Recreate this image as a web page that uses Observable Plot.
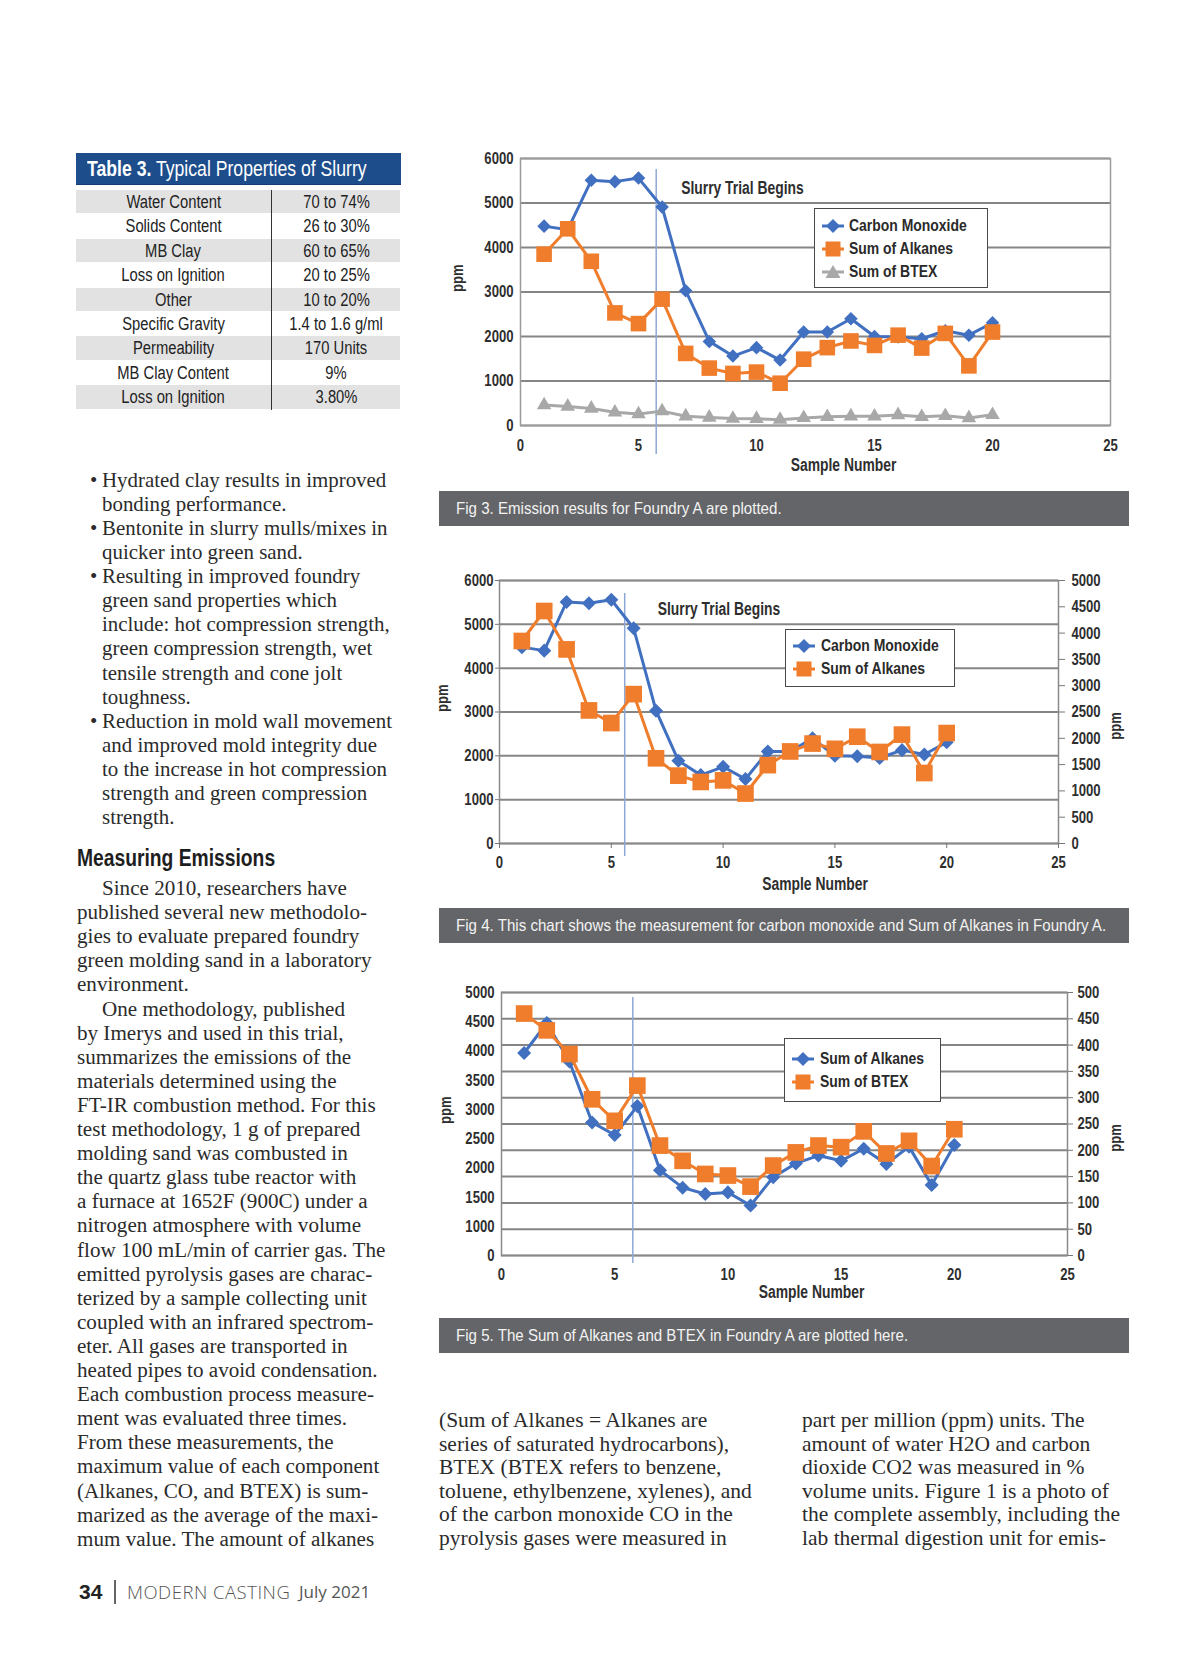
<!DOCTYPE html>
<html>
<head>
<meta charset="utf-8">
<script src="https://cdn.jsdelivr.net/npm/d3@7"></script>
<script src="https://cdn.jsdelivr.net/npm/@observablehq/plot@0.6"></script>
<style>
html,body{margin:0;padding:0;background:#fff;}
#page{position:relative;width:1200px;height:1657px;overflow:hidden;background:#fff;}
.abs{position:absolute;}
.narrow{font-family:"Liberation Sans",Arial,sans-serif;}
.cn{display:inline-block;transform:scaleX(0.82);transform-origin:left center;white-space:nowrap;}
.cnc{display:inline-block;transform:scaleX(0.82);transform-origin:center center;white-space:nowrap;}
.cap .cn{transform:scaleX(0.915);}
.serif{font-family:"Liberation Serif","DejaVu Serif",serif;color:#2b2b2b;}
.line{position:absolute;white-space:pre;line-height:24px;height:24px;}
.cap{position:absolute;left:439px;width:690px;height:35px;background:#646568;color:#f3f3f3;font-size:16.5px;line-height:35px;box-sizing:border-box;padding-left:17px;white-space:nowrap;overflow:hidden;}
.legend{position:absolute;background:#fff;border:1.5px solid #4a4a4a;box-sizing:border-box;}
.legend .item{position:absolute;white-space:nowrap;font-weight:bold;font-size:17px;color:#2a2a2a;line-height:20px;height:20px;}
.legend svg{position:absolute;}
</style>
</head>
<body>
<div id="page"></div>
<script>
// ---------------- DATA ----------------
const samples = [1,2,3,4,5,6,7,8,9,10,11,12,13,14,15,16,17,18,19,20];
const carbonMonoxide = [4480,4400,5510,5480,5560,4910,3030,1890,1560,1750,1470,2100,2100,2400,2000,1990,1950,2130,2030,2310];
const sumAlkanes = [3850,4420,3690,2530,2290,2840,1620,1290,1170,1200,950,1490,1750,1900,1800,2030,1740,2070,1340,2100];
const sumBTEX = [460,428,383,297,256,323,209,180,155,152,131,171,196,209,206,236,194,218,170,240];

const trialStart3 = 5.75, trialStart4 = 5.6, trialStart5 = 5.8;
const trialLabel = "Slurry Trial Begins";

const xTicks = [0,5,10,15,20,25];
const fig3YTicks = [0,1000,2000,3000,4000,5000,6000];
const fig4LeftTicks = [0,1000,2000,3000,4000,5000,6000];
const fig4RightTicks = [0,500,1000,1500,2000,2500,3000,3500,4000,4500,5000];
const fig5LeftLabels = ["5000","4500","4000","3500","3000","2500","2000","1500","1000","0"];
const fig5RightTicks = [0,50,100,150,200,250,300,350,400,450,500];

const tableProps = ["Water Content","Solids Content","MB Clay","Loss on Ignition","Other","Specific Gravity","Permeability","MB Clay Content","Loss on Ignition"];
const tableValues = ["70 to 74%","26 to 30%","60 to 65%","20 to 25%","10 to 20%","1.4 to 1.6 g/ml","170 Units","9%","3.80%"];

const captions = [
  "Fig 3. Emission results for Foundry A are plotted.",
  "Fig 4. This chart shows the measurement for carbon monoxide and Sum of Alkanes in Foundry A.",
  "Fig 5. The Sum of Alkanes and BTEX in Foundry A are plotted here."
];

const bulletLines = [
  ["• ","Hydrated clay results in improved"],
  ["","bonding performance."],
  ["• ","Bentonite in slurry mulls/mixes in"],
  ["","quicker into green sand."],
  ["• ","Resulting in improved foundry"],
  ["","green sand properties which"],
  ["","include: hot compression strength,"],
  ["","green compression strength, wet"],
  ["","tensile strength and cone jolt"],
  ["","toughness."],
  ["• ","Reduction in mold wall movement"],
  ["","and improved mold integrity due"],
  ["","to the increase in hot compression"],
  ["","strength and green compression"],
  ["","strength."]
];
const heading = "Measuring Emissions";
const bodyLines = [
  [1,"Since 2010, researchers have"],
  [0,"published several new methodolo-"],
  [0,"gies to evaluate prepared foundry"],
  [0,"green molding sand in a laboratory"],
  [0,"environment."],
  [1,"One methodology, published"],
  [0,"by Imerys and used in this trial,"],
  [0,"summarizes the emissions of the"],
  [0,"materials determined using the"],
  [0,"FT-IR combustion method. For this"],
  [0,"test methodology, 1 g of prepared"],
  [0,"molding sand was combusted in"],
  [0,"the quartz glass tube reactor with"],
  [0,"a furnace at 1652F (900C) under a"],
  [0,"nitrogen atmosphere with volume"],
  [0,"flow 100 mL/min of carrier gas. The"],
  [0,"emitted pyrolysis gases are charac-"],
  [0,"terized by a sample collecting unit"],
  [0,"coupled with an infrared spectrom-"],
  [0,"eter. All gases are transported in"],
  [0,"heated pipes to avoid condensation."],
  [0,"Each combustion process measure-"],
  [0,"ment was evaluated three times."],
  [0,"From these measurements, the"],
  [0,"maximum value of each component"],
  [0,"(Alkanes, CO, and BTEX) is sum-"],
  [0,"marized as the average of the maxi-"],
  [0,"mum value. The amount of alkanes"]
];
const middleLines = [
  "(Sum of Alkanes = Alkanes are",
  "series of saturated hydrocarbons),",
  "BTEX (BTEX refers to benzene,",
  "toluene, ethylbenzene, xylenes), and",
  "of the carbon monoxide CO in the",
  "pyrolysis gases were measured in"
];
const rightLines = [
  "part per million (ppm) units. The",
  "amount of water H2O and carbon",
  "dioxide CO2 was measured in %",
  "volume units. Figure 1 is a photo of",
  "the complete assembly, including the",
  "lab thermal digestion unit for emis-"
];

// ---------------- STYLE ----------------
const SANS = "'Liberation Sans',Arial,sans-serif";
const CONDENSE = 0.77;
const BLUE = "#4170c0", ORANGE = "#ef7d2c", GRAY = "#a8a8a8", GRID = "#858585", TRIAL = "#8ea8d6";

const page = document.getElementById("page");
function el(tag, cls, css, html) {
  const e = document.createElement(tag);
  if (cls) e.className = cls;
  if (css) Object.assign(e.style, css);
  if (html != null) e.innerHTML = html;
  page.appendChild(e);
  return e;
}
const cn = s => `<span class="cn">${s}</span>`;
const cnc = s => `<span class="cnc">${s}</span>`;

// square-rotated diamond like Excel
const diamond = {
  draw(ctx, size) {
    const h = Math.sqrt(size / 2);
    ctx.moveTo(0, -h); ctx.lineTo(h, 0); ctx.lineTo(0, h); ctx.lineTo(-h, 0); ctx.closePath();
  }
};

const rows = samples.map((s, i) => ({s, co: carbonMonoxide[i], alk: sumAlkanes[i], btex: sumBTEX[i]}));

// ---------------- TABLE ----------------
el("div", "narrow", {position:"absolute", left:"76px", top:"153px", width:"325px", height:"32px", background:"#1e4d8c", color:"#fff", fontSize:"21.5px", lineHeight:"32px", paddingLeft:"11px", boxSizing:"border-box", whiteSpace:"nowrap", borderBottom:"1px solid #173e72", overflow:"hidden"},
  cn("<b>Table 3.</b> Typical Properties of Slurry"));
const rowTop = 190, rowH = 24.4;
tableProps.forEach((p, i) => {
  const top = rowTop + i * rowH;
  if (i % 2 === 0) el("div", "abs", {left:"76px", top: top + "px", width:"324px", height:(rowH - 1) + "px", background:"#e2e2e2"});
  el("div", "narrow abs", {left:"76px", top: top + "px", width:"195px", height: rowH + "px", lineHeight: rowH + "px", textAlign:"center", fontSize:"18px", color:"#222"}, cnc(p));
  el("div", "narrow abs", {left:"272px", top: top + "px", width:"129px", height: rowH + "px", lineHeight: rowH + "px", textAlign:"center", fontSize:"18px", color:"#222"}, cnc(tableValues[i]));
});
el("div", "abs", {left:"270.5px", top:"190px", width:"1.5px", height:(rowH * tableProps.length) + "px", background:"#333"});

// ---------------- LEFT COLUMN TEXT ----------------
bulletLines.forEach(([b, t], i) => {
  const cy = 480 + i * 24.07;
  if (b) el("div", "serif line", {left:"90px", top:(cy - 12) + "px", fontSize:"21px"}, "•");
  el("div", "serif line", {left:"102px", top:(cy - 12) + "px", fontSize:"20.9px"}, t);
});
el("div", "narrow abs", {left:"77px", top:(858 - 14) + "px", fontSize:"23.5px", fontWeight:"bold", color:"#1e1e1e", lineHeight:"28px", whiteSpace:"nowrap"}, cn(heading));
bodyLines.forEach(([ind, t], i) => {
  const cy = 888 + i * 24.1;
  el("div", "serif line", {left:(ind ? 102 : 77) + "px", top:(cy - 12) + "px", fontSize:"21.1px"}, t);
});
middleLines.forEach((t, i) => {
  const cy = 1420 + i * 23.6;
  el("div", "serif line", {left:"439px", top:(cy - 12) + "px", fontSize:"21.5px"}, t);
});
rightLines.forEach((t, i) => {
  const cy = 1420 + i * 23.6;
  el("div", "serif line", {left:"802px", top:(cy - 12) + "px", fontSize:"21.5px"}, t);
});

// ---------------- FOOTER ----------------
el("div", "abs", {left:"79px", top:"1579px", fontFamily:SANS, fontWeight:"bold", fontSize:"21px", lineHeight:"26px", color:"#222"}, "34");
el("div", "abs", {left:"114px", top:"1580px", width:"1.5px", height:"24px", background:"#666"});
el("div", "abs", {left:"127px", top:"1579px", fontFamily:"'Open Sans',sans-serif", fontWeight:"300", fontSize:"18.5px", lineHeight:"26px", color:"#555", whiteSpace:"nowrap", letterSpacing:"0.5px"}, "MODERN CASTING");
el("div", "abs", {left:"299px", top:"1579px", fontFamily:"'Open Sans',sans-serif", fontWeight:"400", fontSize:"17px", lineHeight:"26px", color:"#555", whiteSpace:"nowrap"}, "July 2021");

// ---------------- CAPTIONS ----------------
[491, 908, 1318].forEach((top, i) => el("div", "cap narrow", {top: top + "px"}, cn(captions[i])));

// ---------------- CHARTS ----------------
const baseStyle = {fontFamily: SANS, fontSize: "17px", fontWeight: "bold", color: "#2e2e2e", background: "transparent", overflow: "visible"};
function place(svg, left, top) {
  const d = el("div", "abs", {left: left + "px", top: top + "px"});
  d.appendChild(svg);
  // condense all chart text (narrow bold look) keeping glyph height
  svg.querySelectorAll("text").forEach(t => {
    const w = t.getComputedTextLength();
    if (w > 0) {
      t.setAttribute("textLength", (w * CONDENSE).toFixed(2));
      t.setAttribute("lengthAdjust", "spacingAndGlyphs");
    }
  });
}

// Fig 3
const fig3 = Plot.plot({
  width: 700, height: 345, marginLeft: 90, marginRight: 20, marginTop: 18, marginBottom: 60,
  x: {domain: [0, 25]}, y: {domain: [0, 6000]},
  style: baseStyle,
  marks: [
    Plot.ruleY(fig3YTicks, {stroke: GRID, strokeWidth: 2}),
    Plot.frame({stroke: "#9b9b9b", strokeWidth: 1.5}),
    Plot.ruleX([trialStart3], {stroke: TRIAL, strokeWidth: 1.5, insetTop: 11, insetBottom: -29}),
    Plot.line(rows, {x: "s", y: "co", stroke: BLUE, strokeWidth: 3}),
    Plot.dot(rows, {x: "s", y: "co", symbol: diamond, r: 5.4, fill: BLUE}),
    Plot.line(rows, {x: "s", y: "alk", stroke: ORANGE, strokeWidth: 3}),
    Plot.dot(rows, {x: "s", y: "alk", symbol: "square", r: 8.8, fill: ORANGE}),
    Plot.line(rows, {x: "s", y: "btex", stroke: GRAY, strokeWidth: 3}),
    Plot.dot(rows, {x: "s", y: "btex", symbol: "triangle", r: 5.4, fill: GRAY}),
    Plot.axisY({ticks: fig3YTicks, tickSize: 0, tickPadding: 7, tickFormat: d => String(d), label: null}),
    Plot.axisX({ticks: xTicks, tickSize: 0, tickPadding: 13, tickFormat: d => String(d), label: null}),
    Plot.text(["ppm"], {text: d => d, frameAnchor: "left", dx: -63, rotate: -90}),
    Plot.text(["Sample Number"], {text: d => d, frameAnchor: "bottom", dy: 45, dx: 28, fontSize: 18}),
    Plot.text([{x: trialStart3, t: trialLabel}], {x: "x", text: "t", frameAnchor: "top", dx: 25, dy: 23, textAnchor: "start", fontSize: 18})
  ]
});
place(fig3, 430, 140);

// Fig 4 (alkanes on right axis 0-5000)
const k4 = 6000 / 5000;
const fig4 = Plot.plot({
  width: 720, height: 345, marginLeft: 69, marginRight: 92, marginTop: 20, marginBottom: 62,
  x: {domain: [0, 25]}, y: {domain: [0, 6000]},
  style: baseStyle,
  marks: [
    Plot.ruleY(fig4LeftTicks, {stroke: GRID, strokeWidth: 2}),
    Plot.frame({stroke: "#8a8a8a", strokeWidth: 1.5}),
    Plot.ruleX([trialStart4], {stroke: TRIAL, strokeWidth: 1.5, insetTop: 13, insetBottom: -13}),
    Plot.line(rows, {x: "s", y: "co", stroke: BLUE, strokeWidth: 3}),
    Plot.dot(rows, {x: "s", y: "co", symbol: diamond, r: 5.6, fill: BLUE}),
    Plot.line(rows, {x: "s", y: d => d.alk * k4, stroke: ORANGE, strokeWidth: 3}),
    Plot.dot(rows, {x: "s", y: d => d.alk * k4, symbol: "square", r: 9.4, fill: ORANGE}),
    Plot.axisY({ticks: fig4LeftTicks, tickSize: 4, tickPadding: 2, tickFormat: d => String(d), label: null, stroke: "#777"}),
    Plot.axisY({anchor: "right", ticks: fig4RightTicks.map(v => v * k4), tickSize: 6, tickPadding: 7, tickFormat: d => String(Math.round(d / k4)), label: null, stroke: "#777"}),
    Plot.axisX({ticks: xTicks, tickSize: 5, tickPadding: 7, tickFormat: d => String(d), label: null, stroke: "#777"}),
    Plot.text(["ppm"], {text: d => d, frameAnchor: "left", dx: -57, rotate: -90}),
    Plot.text(["ppm"], {text: d => d, frameAnchor: "right", dx: 57, rotate: -90}),
    Plot.text(["Sample Number"], {text: d => d, frameAnchor: "bottom", dy: 46, dx: 36, fontSize: 18}),
    Plot.text([{x: trialStart4, t: trialLabel}], {x: "x", text: "t", frameAnchor: "top", dx: 33, dy: 22, textAnchor: "start", fontSize: 18})
  ]
});
place(fig4, 430, 560);

// Fig 5 (alkanes left 0-5000, BTEX right 0-500)
const k5 = 5000 / 500;
const fig5LeftPos = fig5LeftLabels.map((_, i) => 5000 * (1 - i / (fig5LeftLabels.length - 1)));
const fig5LabelAt = new Map(fig5LeftPos.map((p, i) => [p, fig5LeftLabels[i]]));
const fig5 = Plot.plot({
  width: 720, height: 340, marginLeft: 71, marginRight: 83, marginTop: 17, marginBottom: 60,
  x: {domain: [0, 25]}, y: {domain: [0, 5000]},
  style: baseStyle,
  marks: [
    Plot.ruleY(fig5RightTicks.map(v => v * k5), {stroke: GRID, strokeWidth: 2}),
    Plot.frame({stroke: "#8a8a8a", strokeWidth: 1.5}),
    Plot.ruleX([trialStart5], {stroke: TRIAL, strokeWidth: 1.5, insetTop: 5, insetBottom: -8}),
    Plot.line(rows, {x: "s", y: "alk", stroke: BLUE, strokeWidth: 3}),
    Plot.dot(rows, {x: "s", y: "alk", symbol: diamond, r: 5.6, fill: BLUE}),
    Plot.line(rows, {x: "s", y: d => d.btex * k5, stroke: ORANGE, strokeWidth: 3}),
    Plot.dot(rows, {x: "s", y: d => d.btex * k5, symbol: "square", r: 9.4, fill: ORANGE}),
    Plot.axisY({ticks: fig5LeftPos, tickSize: 0, tickPadding: 7, tickFormat: d => fig5LabelAt.get(d), label: null}),
    Plot.axisY({anchor: "right", ticks: fig5RightTicks.map(v => v * k5), tickSize: 5, tickPadding: 5, tickFormat: d => String(Math.round(d / k5)), label: null, stroke: "#777"}),
    Plot.axisX({ticks: xTicks, tickSize: 0, tickPadding: 12, tickFormat: d => String(d), label: null}),
    Plot.text(["ppm"], {text: d => d, frameAnchor: "left", dx: -56, rotate: -90}),
    Plot.text(["ppm"], {text: d => d, frameAnchor: "right", dx: 48, rotate: -90}),
    Plot.text(["Sample Number"], {text: d => d, frameAnchor: "bottom", dy: 42, dx: 27, fontSize: 18})
  ]
});
place(fig5, 430, 975);

// ---------------- LEGENDS ----------------
function markerSVG(kind, color) {
  let shape = "";
  if (kind === "diamond") shape = `<polygon points="11,2 18,9 11,16 4,9" fill="${color}"/>`;
  else if (kind === "square") shape = `<rect x="3.5" y="1.5" width="15" height="15" fill="${color}"/>`;
  else shape = `<polygon points="11,2 18.5,15 3.5,15" fill="${color}"/>`;
  return `<svg width="22" height="18" viewBox="0 0 22 18"><line x1="0" y1="9" x2="22" y2="9" stroke="${color}" stroke-width="3"/>${shape}</svg>`;
}
function legend(box, entries, markerX, textX, rowYs) {
  const L = el("div", "legend narrow", {left: box[0] + "px", top: box[1] + "px", width: (box[2] - box[0]) + "px", height: (box[3] - box[1]) + "px"});
  entries.forEach((e, i) => {
    const s = document.createElement("div");
    s.innerHTML = markerSVG(e.kind, e.color);
    const svg = s.firstChild;
    svg.style.left = (markerX - box[0] - 11) + "px";
    svg.style.top = (rowYs[i] - box[1] - 9) + "px";
    L.appendChild(svg);
    const t = document.createElement("div");
    t.className = "item";
    t.style.left = (textX - box[0]) + "px";
    t.style.top = (rowYs[i] - box[1] - 10) + "px";
    t.innerHTML = cn(e.label);
    L.appendChild(t);
  });
}
legend([814, 208, 988, 288], [
  {label: "Carbon Monoxide", kind: "diamond", color: BLUE},
  {label: "Sum of Alkanes", kind: "square", color: ORANGE},
  {label: "Sum of BTEX", kind: "triangle", color: GRAY}
], 832, 848, [225, 248, 271]);
legend([785, 629, 955, 687], [
  {label: "Carbon Monoxide", kind: "diamond", color: BLUE},
  {label: "Sum of Alkanes", kind: "square", color: ORANGE}
], 803, 820, [645, 668]);
legend([784, 1038, 941, 1102], [
  {label: "Sum of Alkanes", kind: "diamond", color: BLUE},
  {label: "Sum of BTEX", kind: "square", color: ORANGE}
], 802, 819, [1058, 1081]);
</script>
</body>
</html>
